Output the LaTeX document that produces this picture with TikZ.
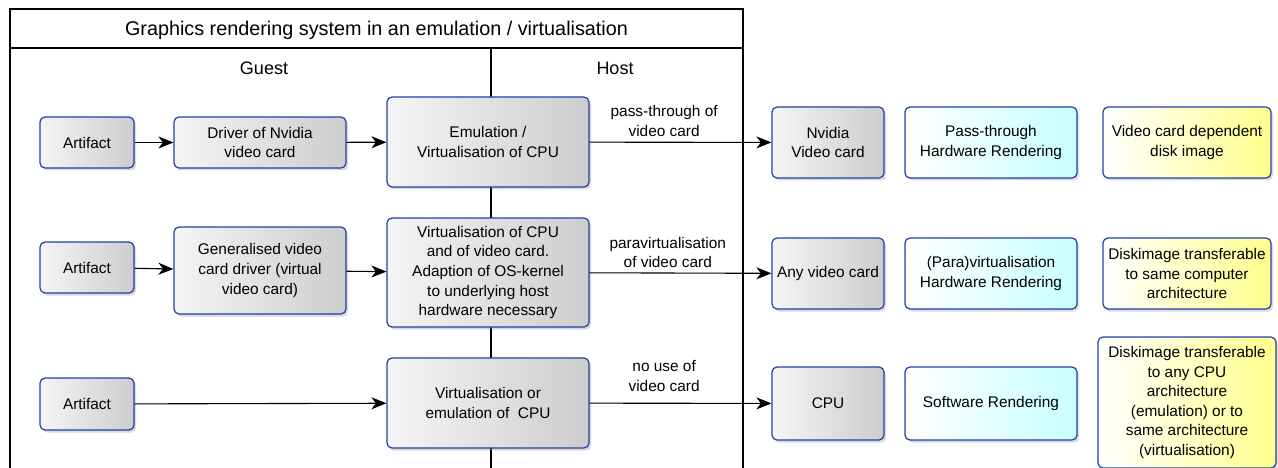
\documentclass[tikz,border=0pt]{standalone}
\usepackage{fontspec}
\setmainfont{Liberation Sans}
\usetikzlibrary{positioning}
\usetikzlibrary{shadows}
\usetikzlibrary{arrows.meta}
\definecolor{BoxLine}{RGB}{33,64,170}
\definecolor{BoxGrey}{RGB}{205,205,205}
\definecolor{BoxCyan}{RGB}{200,255,255}
\definecolor{BoxYellow}{RGB}{255,255,140}
\tikzset{BoxStyle/.style={draw=BoxLine,line width=1.2pt,rounded corners=5pt,align=center,inner sep=0pt,
    drop shadow={shadow xshift=2pt,shadow yshift=-2.5pt,opacity=0.3}}}
\tikzset{GreyBox/.style={BoxStyle,left color=white!96!black,right color=BoxGrey}}
\tikzset{CyanBox/.style={BoxStyle,left color=white,right color=BoxCyan}}
\tikzset{YellowBox/.style={BoxStyle,left color=white,right color=BoxYellow}}
\tikzset{HeadStyle/.style={font=\fontsize{18}{22}\selectfont}}
\tikzset{LabelStyle/.style={align=center,inner sep=0pt}}

\begin{document}
\begin{tikzpicture}[x=1pt,y=-1pt,font=\fontsize{15.4}{19.6}\selectfont,line width=1.4pt]
        \useasboundingbox (0,0) rectangle (1278,468);
        \draw (10,468) -- (10,9) -- (743,9) -- (743,468);
        \draw (10,48) -- (743,48);
        \draw (491,48) -- (491,468);
        \node[HeadStyle,font=\fontsize{19.8}{22}\selectfont] (T) at (376.5,30) {Graphics rendering system in an emulation / virtualisation};
        \node[HeadStyle] (G) at (264,68) {Guest};
        \node[HeadStyle] (H) at (615,68) {Host};
        \node[GreyBox,minimum width=94pt,minimum height=51pt] (A1) at (87,142.5) {Artifact};
        \node[GreyBox,minimum width=172pt,minimum height=51pt] (D1) at (260,142.5) {Driver of Nvidia\\video card};
        \node[GreyBox,minimum width=202pt,minimum height=90pt] (E1) at (488,142) {Emulation /\\Virtualisation of CPU};
        \node[GreyBox,minimum width=112pt,minimum height=71pt] (N1) at (828,142.5) {Nvidia\\Video card};
        \node[CyanBox,minimum width=172pt,minimum height=71pt] (R1) at (991,142.5) {Pass-through\\Hardware Rendering};
        \node[YellowBox,minimum width=168pt,minimum height=71pt] (I1) at (1187,142.5) {Video card dependent\\disk image};
        \node[GreyBox,minimum width=94pt,minimum height=51pt] (A2) at (87,267.5) {Artifact};
        \node[GreyBox,minimum width=172pt,minimum height=87pt] (D2) at (260,270.5) {Generalised video\\card driver (virtual\\video card)};
        \node[GreyBox,minimum width=202pt,minimum height=109pt] (E2) at (488,272.5) {Virtualisation of CPU\\and of video card.\\Adaption of OS-kernel\\to underlying host\\hardware necessary};
        \node[GreyBox,minimum width=112pt,minimum height=71pt] (N2) at (828,273.5) {Any video card};
        \node[CyanBox,minimum width=172pt,minimum height=71pt] (R2) at (991,273.5) {(Para)virtualisation\\Hardware Rendering};
        \node[YellowBox,minimum width=168pt,minimum height=71pt] (I2) at (1187,273.5) {Diskimage transferable\\to same computer\\architecture};
        \node[GreyBox,minimum width=94pt,minimum height=52pt] (A3) at (87,404) {Artifact};
        \node[GreyBox,minimum width=202pt,minimum height=90pt] (E3) at (488,403) {Virtualisation or\\emulation of\ \ CPU};
        \node[GreyBox,minimum width=112pt,minimum height=73pt] (N3) at (828,403.5) {CPU};
        \node[CyanBox,minimum width=172pt,minimum height=73pt] (R3) at (991,403.5) {Software Rendering};
        \node[YellowBox,minimum width=178pt,minimum height=131pt] (I3) at (1187,402.5) {Diskimage transferable\\to any CPU\\architecture\\(emulation) or to\\same architecture\\(virtualisation)};
        \tikzstyle{EdgeStyle}=[line width=1.1pt,-{Stealth[length=15pt,width=12pt,inset=4.5pt]}]
        \draw[EdgeStyle] (A1) -- (D1);
        \draw[EdgeStyle] (D1) -- (E1);
        \draw[EdgeStyle] (E1) -- node[LabelStyle,pos=0.41,yshift=21.5pt] {pass-through of\\video card} (N1);
        \draw[EdgeStyle] (A2) -- (D2);
        \draw[EdgeStyle] (D2) -- (E2);
        \draw[EdgeStyle] (E2) -- node[LabelStyle,pos=0.43,yshift=20.5pt] {paravirtualisation\\of video card} (N2);
        \draw[EdgeStyle] (A3) -- (E3);
        \draw[EdgeStyle] (E3) -- node[LabelStyle,pos=0.41,yshift=27pt] {no use of\\video card} (N3);
    \end{tikzpicture}
\end{document}
